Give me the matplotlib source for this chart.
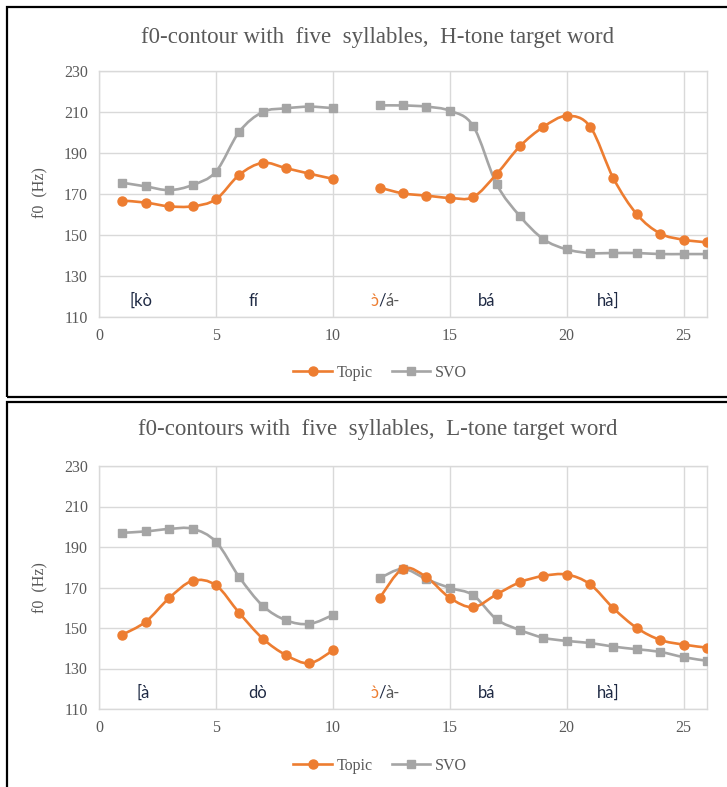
import numpy as np
import matplotlib
matplotlib.use("Agg")
import matplotlib.pyplot as plt
from matplotlib.path import Path
from matplotlib.patches import PathPatch, Rectangle
from matplotlib.lines import Line2D

# ---------------- data ----------------
x_first = [1, 2, 3, 4, 5, 6, 7, 8, 9, 10]
x_second = [12, 13, 14, 15, 16, 17, 18, 19, 20, 21, 22, 23, 24, 25, 26]

# H-tone target word
h_topic_1 = [166.8, 165.8, 164.0, 164.0, 167.4, 179.4, 185.2, 182.6, 179.9, 177.4]
h_topic_2 = [173.1, 170.3, 169.2, 168.1, 168.5, 179.7, 193.3, 202.7, 208.1, 202.9,
             177.6, 160.1, 150.7, 147.7, 146.4]
h_svo_1 = [175.5, 173.7, 171.9, 174.4, 180.9, 200.4, 210.0, 211.8, 212.6, 211.9]
h_svo_2 = [213.2, 213.2, 212.6, 210.6, 203.2, 174.9, 159.2, 148.0, 143.0, 141.2,
           141.2, 141.2, 140.7, 140.7, 140.7]

# L-tone target word
l_topic_1 = [146.7, 153.1, 164.8, 173.3, 171.1, 157.4, 144.8, 136.6, 132.6, 138.9]
l_topic_2 = [164.8, 179.3, 175.1, 164.9, 160.3, 166.6, 172.6, 175.7, 176.4, 171.6,
             159.7, 150.0, 144.1, 141.8, 140.3]
l_svo_1 = [197.0, 197.7, 198.9, 199.0, 192.6, 175.1, 161.0, 153.8, 152.0, 156.4]
l_svo_2 = [174.6, 179.2, 174.1, 169.8, 166.2, 154.3, 149.0, 145.2, 143.6, 142.6,
           140.8, 139.5, 138.2, 135.6, 133.8]

titles = ["f0-contour with  five  syllables,  H-tone target word",
          "f0-contours with  five  syllables,  L-tone target word"]
series_names = ["Topic", "SVO"]
y_ticks = [110, 130, 150, 170, 190, 210, 230]
x_ticks = [0, 5, 10, 15, 20, 25]

syll_top = [("[kò", 1.3), ("fí", 6.4), ("bá", 16.2), ("hà]", 21.3)]
syll_bot = [("[à", 1.6), ("dò", 6.4), ("bá", 16.2), ("hà]", 21.3)]
mixed_top = ["\u0254\u0300", "/", "á-"]
mixed_bot = ["\u0254\u0300", "/", "à-"]

ORANGE = "#ED7D31"
GRAY = "#A5A5A5"
GRID = "#D9D9D9"
TXT = "#595959"
NAVY = "#1F2A44"
SERIF = "Liberation Serif"
SANS = ["Lato", "DejaVu Sans"]


def smooth_path(xs, ys):
    """Excel-style smoothed line as cubic Bezier segments through the points."""
    pts = np.column_stack([xs, ys]).astype(float)
    n = len(pts)
    verts = [pts[0]]
    codes = [Path.MOVETO]
    for i in range(n - 1):
        p0 = pts[i - 1] if i > 0 else pts[i]
        p1 = pts[i]
        p2 = pts[i + 1]
        p3 = pts[i + 2] if i + 2 < n else pts[i + 1]
        c1 = p1 + (p2 - p0) / 6.0
        c2 = p2 - (p3 - p1) / 6.0
        verts += [c1, c2, p2]
        codes += [Path.CURVE4] * 3
    return Path(verts, codes)


fig = plt.figure(figsize=(7.27, 7.87), dpi=100)

# panel frames
fig.patches.append(Rectangle((7 / 727, 1 - 397 / 787), 0.995, (397 - 7) / 787,
                             transform=fig.transFigure, fill=False,
                             edgecolor="black", linewidth=1.6))
fig.patches.append(Rectangle((7 / 727, -0.01), 0.995, 1 - 402 / 787 + 0.01,
                             transform=fig.transFigure, fill=False,
                             edgecolor="black", linewidth=1.6))

axes_pos = [[99 / 727, 1 - 317 / 787, 608 / 727, 246 / 787],
            [99 / 727, 1 - 709 / 787, 608 / 727, 243 / 787]]
title_y = [1 - 37 / 787, 1 - 430 / 787]
legend_y = [1 - 373 / 787, 1 - 766 / 787]
ylabel_y = [1 - 193 / 787, 1 - 588 / 787]

datasets = [
    (h_topic_1, h_topic_2, h_svo_1, h_svo_2, syll_top, mixed_top),
    (l_topic_1, l_topic_2, l_svo_1, l_svo_2, syll_bot, mixed_bot),
]

LBL = 12

for k, (t1, t2, s1, s2, sylls, mixed) in enumerate(datasets):
    ax = fig.add_axes(axes_pos[k])
    ax.set_xlim(0, 26)
    ax.set_ylim(110, 230)
    ax.set_xticks(x_ticks)
    ax.set_yticks(y_ticks)
    ax.grid(True, color=GRID, linewidth=1.0)
    ax.set_axisbelow(True)
    for sp in ax.spines.values():
        sp.set_color(GRID)
        sp.set_linewidth(1.0)
    ax.tick_params(length=0, labelsize=11.5, labelcolor=TXT, pad=8)
    for lab in ax.get_xticklabels() + ax.get_yticklabels():
        lab.set_fontfamily(SERIF)

    for xs, ys, col, mk, ms in [(x_first, s1, GRAY, "s", 6.0),
                                (x_second, s2, GRAY, "s", 6.0),
                                (x_first, t1, ORANGE, "o", 6.5),
                                (x_second, t2, ORANGE, "o", 6.5)]:
        ax.add_patch(PathPatch(smooth_path(xs, ys), facecolor="none",
                               edgecolor=col, linewidth=1.9, zorder=3))
        ax.plot(xs, ys, linestyle="none", marker=mk, markersize=ms,
                color=col, zorder=4)

    for txt, xv in sylls:
        ax.text(xv, 118, txt, fontsize=LBL, color=NAVY, family=SANS,
                ha="left", va="center")

    # multi-coloured syllable label
    cols = [ORANGE, NAVY, TXT]
    fig.canvas.draw()
    t = ax.text(11.6, 118, mixed[0], fontsize=LBL, color=cols[0], family=SANS,
                ha="left", va="center")
    for piece, col in zip(mixed[1:], cols[1:]):
        fig.canvas.draw()
        bb = t.get_window_extent(renderer=fig.canvas.get_renderer())
        xd, _ = ax.transData.inverted().transform((bb.x1, bb.y0))
        t = ax.text(xd, 118, piece, fontsize=LBL, color=col, family=SANS,
                    ha="left", va="center")

    fig.text(0.519, title_y[k], titles[k], ha="center", va="center",
             fontsize=16.5, color=TXT, family=SERIF)
    fig.text(40 / 727, ylabel_y[k], "f0  (Hz)", rotation=90, ha="center",
             va="center", fontsize=11.5, color=TXT, family=SERIF)

    handles = [Line2D([], [], color=ORANGE, marker="o", markersize=6.5, linewidth=1.9),
               Line2D([], [], color=GRAY, marker="s", markersize=6.0, linewidth=1.9)]
    fig.legend(handles, series_names, loc="center", ncol=2,
               bbox_to_anchor=(0.523, legend_y[k]), frameon=False,
               prop={"family": SERIF, "size": 11.5}, labelcolor=TXT,
               handlelength=2.4, handletextpad=0.3, columnspacing=1.2)

fig.savefig("out.png", dpi=100)
